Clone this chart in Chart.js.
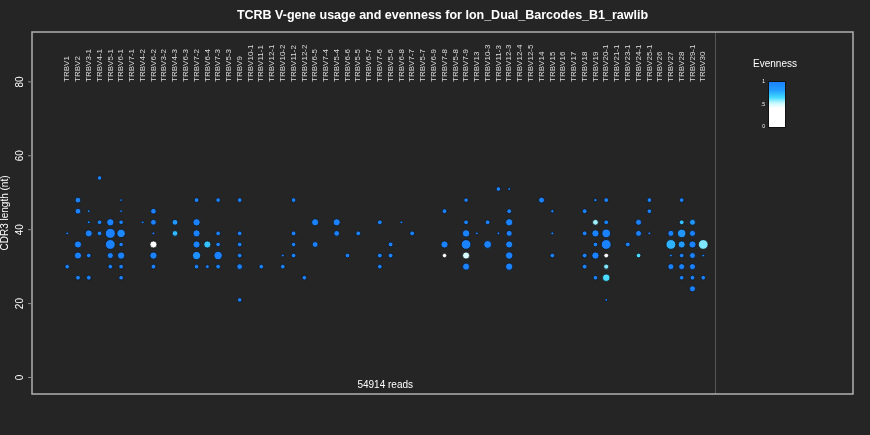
<!DOCTYPE html>
<html>
<head>
<meta charset="utf-8">
<title>TCRB V-gene usage and evenness</title>
<script src="https://cdn.jsdelivr.net/npm/chart.js@4.4.1/dist/chart.umd.min.js"></script>
<style>
  html, body { margin: 0; padding: 0; background: #252525; }
  canvas { display: block; }
</style>
</head>
<body>
<canvas id="chart" width="870" height="435"></canvas>
<script>
  'use strict';

  const SAMPLE = 'Ion_Dual_Barcodes_B1_rawlib';
  const TOTAL_READS = 54914;

  // V-Gene in der Reihenfolge der x-Achse.
  const vGenes = [
    'TRBV1', 'TRBV2', 'TRBV3-1', 'TRBV4-1', 'TRBV5-1', 'TRBV6-1', 'TRBV7-1',
    'TRBV4-2', 'TRBV6-2', 'TRBV3-2', 'TRBV4-3', 'TRBV6-3', 'TRBV7-2', 'TRBV6-4',
    'TRBV7-3', 'TRBV5-3', 'TRBV9', 'TRBV10-1', 'TRBV11-1', 'TRBV12-1', 'TRBV10-2',
    'TRBV11-2', 'TRBV12-2', 'TRBV6-5', 'TRBV7-4', 'TRBV5-4', 'TRBV6-6', 'TRBV5-5',
    'TRBV6-7', 'TRBV7-6', 'TRBV5-6', 'TRBV6-8', 'TRBV7-7', 'TRBV5-7', 'TRBV6-9',
    'TRBV7-8', 'TRBV5-8', 'TRBV7-9', 'TRBV13', 'TRBV10-3', 'TRBV11-3', 'TRBV12-3',
    'TRBV12-4', 'TRBV12-5', 'TRBV14', 'TRBV15', 'TRBV16', 'TRBV17', 'TRBV18',
    'TRBV19', 'TRBV20-1', 'TRBV21-1', 'TRBV23-1', 'TRBV24-1', 'TRBV25-1', 'TRBV26',
    'TRBV27', 'TRBV28', 'TRBV29-1', 'TRBV30',
  ];

  const yTicks = [0, 20, 40, 60, 80];
  const legendTicks = [0, 0.5, 1];

  // Ein Eintrag pro Blase: Gen-Index, CDR3-Länge (nt), Nutzung, Evenness.
  const geneIdx = [
    0, 0,
    1, 1, 1, 1, 1,
    2, 2, 2, 2, 2,
    3, 3, 3,
    4, 4, 4, 4, 4,
    5, 5, 5, 5, 5, 5, 5, 5,
    7,
    8, 8, 8, 8, 8, 8,
    10, 10,
    12, 12, 12, 12, 12, 12,
    13, 13,
    14, 14, 14, 14, 14,
    16, 16, 16, 16, 16, 16,
    18,
    20, 20,
    21, 21, 21, 21,
    22,
    23, 23,
    25, 25,
    26,
    27,
    29, 29, 29,
    30, 30,
    31,
    32,
    35, 35, 35,
    37, 37, 37, 37, 37, 37,
    38,
    39, 39,
    40, 40,
    41, 41, 41, 41, 41, 41, 41,
    44,
    45, 45, 45,
    48, 48, 48, 48,
    49, 49, 49, 49, 49, 49,
    50, 50, 50, 50, 50, 50, 50, 50,
    52,
    53, 53, 53,
    54, 54, 54,
    56, 56, 56, 56,
    57, 57, 57, 57, 57, 57, 57,
    58, 58, 58, 58, 58, 58, 58,
    59, 59, 59,
  ];

  const cdr3Len = [
    39, 30,
    48, 45, 36, 33, 27,
    45, 42, 39, 33, 27,
    54, 42, 39,
    42, 39, 36, 33, 30,
    48, 45, 42, 39, 36, 33, 30, 27,
    42,
    45, 42, 39, 36, 33, 30,
    42, 39,
    48, 42, 39, 36, 33, 30,
    36, 30,
    48, 39, 36, 33, 30,
    48, 39, 36, 33, 30, 21,
    30,
    33, 30,
    48, 39, 36, 33,
    27,
    42, 36,
    42, 39,
    33,
    39,
    42, 33, 30,
    36, 33,
    42,
    39,
    45, 36, 33,
    48, 42, 39, 36, 33, 30,
    39,
    42, 36,
    51, 39,
    51, 45, 42, 39, 36, 33, 30,
    48,
    45, 39, 33,
    45, 39, 33, 30,
    48, 42, 39, 36, 33, 27,
    48, 42, 39, 36, 33, 30, 27, 21,
    36,
    42, 39, 33,
    48, 45, 39,
    39, 36, 33, 30,
    48, 42, 39, 36, 33, 30, 27,
    42, 39, 36, 33, 30, 27, 24,
    36, 33, 27,
  ];

  const usage = [
    20, 100,
    180, 180, 300, 300, 110,
    20, 25, 290, 100, 110,
    90, 100, 100,
    320, 660, 640, 200, 100,
    20, 20, 100, 450, 90, 320, 100, 100,
    20,
    170, 180, 20, 300, 310, 110,
    180, 170,
    110, 320, 300, 300, 430, 100,
    300, 60,
    100, 100, 100, 450, 110,
    100, 100, 100, 100, 170, 90,
    100,
    25, 100,
    100, 110, 90, 100,
    100,
    300, 180,
    300, 170,
    100,
    110,
    110, 110, 100,
    110, 110,
    20,
    110,
    110, 300, 90,
    90, 110, 330, 620, 300, 300,
    20,
    110, 380,
    100, 20,
    25, 110, 320, 190, 300, 330, 320,
    190,
    40, 25, 100,
    110, 110, 110, 110,
    40, 180, 310, 100, 310, 100,
    110, 110, 480, 640, 110, 130, 350, 20,
    110,
    190, 190, 100,
    100, 100, 20,
    200, 640, 25, 200,
    100, 110, 460, 300, 100, 200, 100,
    190, 200, 300, 190, 200, 110, 200,
    620, 20, 100,
  ];

  const evenness = [
    1, 1,
    1, 1, 1, 1, 1,
    1, 1, 1, 1, 1,
    1, 1, 1,
    1, 1, 1, 1, 1,
    1, 1, 1, 0.95, 1, 1, 1, 1,
    1,
    1, 1, 1, 0.1, 1, 1,
    0.85, 0.74,
    1, 1, 1, 1, 0.9, 1,
    0.72, 1,
    1, 1, 1, 1, 1,
    1, 1, 1, 1, 1, 1,
    1,
    1, 1,
    1, 1, 1, 1,
    1,
    1, 1,
    1, 1,
    1,
    1,
    1, 1, 1,
    1, 1,
    1,
    1,
    1, 1, 0.1,
    1, 1, 1, 1, 0.5, 1,
    1,
    1, 1,
    1, 1,
    1, 1, 1, 1, 1, 1, 1,
    1,
    1, 1, 1,
    1, 1, 1, 1,
    1, 0.57, 1, 1, 1, 1,
    1, 1, 1, 1, 0.1, 0.6, 0.65, 1,
    1,
    1, 1, 0.65,
    1, 1, 1,
    1, 0.76, 1, 1,
    1, 0.72, 0.86, 0.84, 1, 1, 1,
    0.86, 1, 1, 1, 1, 1, 1,
    0.6, 1, 1,
  ];

  // Farbskala Evenness: unter ~0.4 weiss, darüber über Cyan nach Blau.
  const EVENNESS_STOPS = [
    [0, '#ffffff'],
    [0.42, '#ffffff'],
    [0.53, '#c8faff'],
    [0.66, '#40d8ff'],
    [0.82, '#229cff'],
    [1, '#1b82ff'],
  ];

  const BG = '#252525';
  const FRAME = '#b0b0b0';
  const TEXT = '#ffffff';
  const FONT = '"Liberation Sans", Arial, Helvetica, sans-serif';

  function hexToRgb(hex) {
    const n = parseInt(hex.slice(1), 16);
    return [(n >> 16) & 255, (n >> 8) & 255, n & 255];
  }

  function evennessColor(e) {
    for (let k = 1; k < EVENNESS_STOPS.length; k++) {
      const [v1, c1] = EVENNESS_STOPS[k];
      if (e <= v1) {
        const [v0, c0] = EVENNESS_STOPS[k - 1];
        const t = v1 === v0 ? 0 : (e - v0) / (v1 - v0);
        const a = hexToRgb(c0);
        const b = hexToRgb(c1);
        const rgb = a.map((ch, j) => Math.round(ch + (b[j] - ch) * t));
        return `rgb(${rgb.join(',')})`;
      }
    }
    return EVENNESS_STOPS[EVENNESS_STOPS.length - 1][1];
  }

  // Fläche ~ Nutzung, plus Mindestgrösse damit seltene Kombinationen sichtbar bleiben.
  function bubbleRadius(u) {
    return 0.6 + 0.17 * Math.sqrt(u);
  }

  const points = geneIdx.map((g, k) => ({ x: g, y: cdr3Len[k] }));

  // Rahmen, Achsenbeschriftung, Titel und Legende — alles über die Skalen.
  const decorations = {
    id: 'decorations',
    beforeDraw(chart) {
      const ctx = chart.ctx;
      ctx.save();
      ctx.fillStyle = BG;
      ctx.fillRect(0, 0, chart.width, chart.height);
      ctx.restore();
    },
    afterDraw(chart) {
      const ctx = chart.ctx;
      const area = chart.chartArea;
      const xs = chart.scales.x;
      const ys = chart.scales.y;
      const frameRight = 853;

      ctx.save();

      // Trennlinie zwischen Plot und Legende
      ctx.strokeStyle = '#555555';
      ctx.lineWidth = 1;
      ctx.beginPath();
      ctx.moveTo(area.right + 0.5, area.top);
      ctx.lineTo(area.right + 0.5, area.bottom);
      ctx.stroke();

      // Aussenrahmen
      ctx.strokeStyle = FRAME;
      ctx.lineWidth = 1.5;
      ctx.strokeRect(area.left, area.top, frameRight - area.left, area.bottom - area.top);

      // y-Ticks und Beschriftung (gedreht wie in R)
      ctx.strokeStyle = '#8a8a8a';
      ctx.lineWidth = 1;
      ctx.fillStyle = TEXT;
      ctx.font = `10px ${FONT}`;
      ctx.textAlign = 'center';
      ctx.textBaseline = 'middle';
      yTicks.forEach((v) => {
        const py = ys.getPixelForValue(v);
        ctx.beginPath();
        ctx.moveTo(area.left - 4, py);
        ctx.lineTo(area.left, py);
        ctx.stroke();
        ctx.save();
        ctx.translate(20, py);
        ctx.rotate(-Math.PI / 2);
        ctx.fillText(String(v), 0, 0);
        ctx.restore();
      });

      ctx.save();
      ctx.translate(5, (area.top + area.bottom) / 2);
      ctx.rotate(-Math.PI / 2);
      ctx.fillText('CDR3 length (nt)', 0, 0);
      ctx.restore();

      // Gen-Namen oben im Plot, senkrecht ab y = 80
      ctx.fillStyle = '#dddddd';
      ctx.font = `8px ${FONT}`;
      ctx.textAlign = 'left';
      const labelY = ys.getPixelForValue(80);
      vGenes.forEach((name, i) => {
        ctx.save();
        ctx.translate(xs.getPixelForValue(i), labelY);
        ctx.rotate(-Math.PI / 2);
        ctx.fillText(name, 0, 0);
        ctx.restore();
      });

      // Anzahl Reads
      ctx.fillStyle = TEXT;
      ctx.font = `10px ${FONT}`;
      ctx.textAlign = 'center';
      ctx.fillText(`${TOTAL_READS} reads`, xs.getPixelForValue((vGenes.length - 1) / 2), ys.getPixelForValue(-2));

      // Titel
      ctx.font = `bold 12.5px ${FONT}`;
      ctx.fillText(
        `TCRB V-gene usage and evenness for ${SAMPLE}`,
        (area.left + frameRight) / 2,
        16
      );

      // Legende
      const barX = 769;
      const barW = 16;
      const barTop = 82;
      const barBottom = 127;
      ctx.font = `10px ${FONT}`;
      ctx.fillText('Evenness', 775, 64);

      const grad = ctx.createLinearGradient(0, barBottom, 0, barTop);
      EVENNESS_STOPS.forEach(([v, c]) => grad.addColorStop(v, c));
      ctx.fillStyle = grad;
      ctx.fillRect(barX, barTop, barW, barBottom - barTop);
      ctx.strokeStyle = '#111111';
      ctx.strokeRect(barX - 0.5, barTop - 0.5, barW + 1, barBottom - barTop + 1);

      ctx.fillStyle = TEXT;
      ctx.font = `5px ${FONT}`;
      ctx.textAlign = 'right';
      legendTicks.forEach((v) => {
        const py = barBottom - v * (barBottom - barTop);
        ctx.fillText(v === 0.5 ? '.5' : String(v), barX - 4, py);
      });

      ctx.restore();
    },
  };

  new Chart(document.getElementById('chart'), {
    type: 'bubble',
    data: {
      datasets: [
        {
          data: points,
          radius: (c) => bubbleRadius(usage[c.dataIndex]),
          backgroundColor: (c) => evennessColor(evenness[c.dataIndex]),
          borderColor: '#141414',
          borderWidth: 0.8,
        },
      ],
    },
    options: {
      responsive: false,
      animation: false,
      events: [],
      layout: {
        padding: { left: 32, top: 32, right: 155, bottom: 41 },
      },
      plugins: {
        legend: { display: false },
        tooltip: { enabled: false },
      },
      scales: {
        x: { type: 'linear', min: -3.265, max: 60.09, display: false },
        y: { type: 'linear', min: -4.47, max: 93.5, display: false },
      },
    },
    plugins: [decorations],
  });
</script>
</body>
</html>
